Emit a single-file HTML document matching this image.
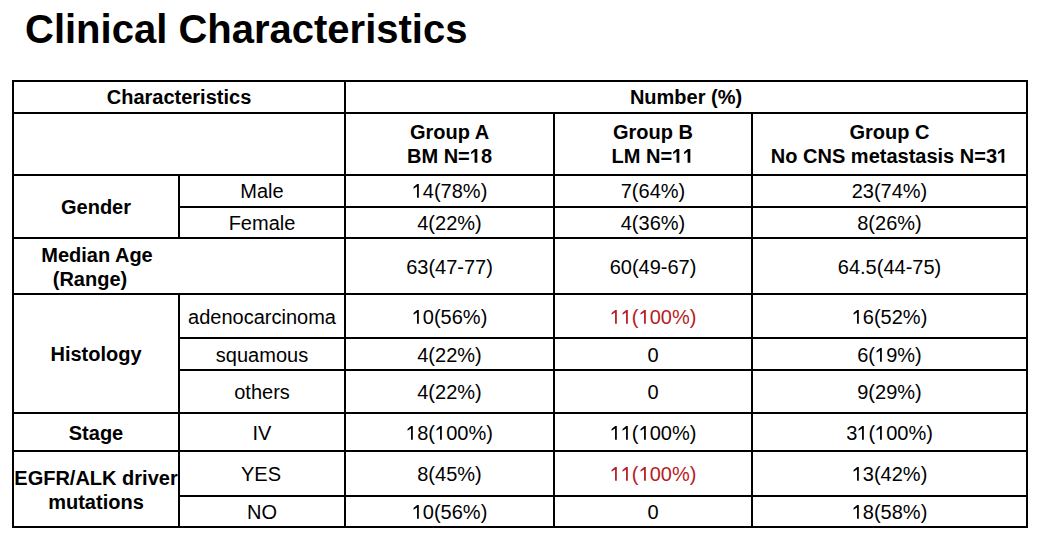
<!DOCTYPE html>
<html><head><meta charset="utf-8"><style>
html,body{margin:0;padding:0;background:#fff;}
body{width:1037px;height:534px;position:relative;overflow:hidden;font-family:"Liberation Sans",sans-serif;color:#000;}
.t{position:absolute;left:25px;top:6px;font-size:40px;font-weight:bold;line-height:46px;white-space:nowrap;}
.l{position:absolute;background:#000;}
.c{position:absolute;display:flex;align-items:center;justify-content:center;text-align:center;font-size:20px;line-height:24px;white-space:nowrap;}
.b{font-weight:bold;}
.r{color:#b81c24;}
svg.o{width:11.123px;height:13.76px;fill:currentColor;vertical-align:baseline;}
</style></head><body>
<div class="t">Clinical Characteristics</div>
<div class="l" style="left:12px;top:80px;width:1016px;height:2px"></div>
<div class="l" style="left:12px;top:112px;width:1016px;height:2px"></div>
<div class="l" style="left:12px;top:174px;width:1016px;height:2px"></div>
<div class="l" style="left:12px;top:237px;width:1016px;height:2px"></div>
<div class="l" style="left:12px;top:293px;width:1016px;height:2px"></div>
<div class="l" style="left:12px;top:412px;width:1016px;height:2px"></div>
<div class="l" style="left:12px;top:450px;width:1016px;height:2px"></div>
<div class="l" style="left:12px;top:526px;width:1016px;height:2px"></div>
<div class="l" style="left:178px;top:206px;width:850px;height:2px"></div>
<div class="l" style="left:178px;top:337px;width:850px;height:2px"></div>
<div class="l" style="left:178px;top:369px;width:850px;height:2px"></div>
<div class="l" style="left:178px;top:495px;width:850px;height:2px"></div>
<div class="l" style="left:12px;top:80px;width:2px;height:448px"></div>
<div class="l" style="left:344px;top:80px;width:2px;height:448px"></div>
<div class="l" style="left:553px;top:112px;width:2px;height:416px"></div>
<div class="l" style="left:751px;top:112px;width:2px;height:416px"></div>
<div class="l" style="left:1026px;top:80px;width:2px;height:448px"></div>
<div class="l" style="left:178px;top:174px;width:2px;height:64px"></div>
<div class="l" style="left:178px;top:293px;width:2px;height:235px"></div>
<div class="c b" style="left:14px;top:82px;width:330px;height:30px"><div>Characteristics</div></div>
<div class="c b" style="left:346px;top:82px;width:680px;height:30px"><div>Number (%)</div></div>
<div class="c b" style="left:346px;top:114px;width:207px;height:60px"><div>Group A<br>BM N=<svg class="o" viewBox="0 0 1139 1409"><path d="M470 1409L470 290L115 540L115 320L490 0L751 0L751 1409Z"/></svg>8</div></div>
<div class="c b" style="left:555px;top:114px;width:196px;height:60px"><div>Group B<br>LM N=<svg class="o" viewBox="0 0 1139 1409"><path d="M470 1409L470 290L115 540L115 320L490 0L751 0L751 1409Z"/></svg><svg class="o" viewBox="0 0 1139 1409"><path d="M470 1409L470 290L115 540L115 320L490 0L751 0L751 1409Z"/></svg></div></div>
<div class="c b" style="left:753px;top:114px;width:273px;height:60px"><div>Group C<br>No CNS metastasis N=3<svg class="o" viewBox="0 0 1139 1409"><path d="M470 1409L470 290L115 540L115 320L490 0L751 0L751 1409Z"/></svg></div></div>
<div class="c b" style="left:14px;top:176px;width:164px;height:62px"><div>Gender</div></div>
<div class="c " style="left:180px;top:176px;width:164px;height:30px"><div>Male</div></div>
<div class="c " style="left:180px;top:208px;width:164px;height:30px"><div>Female</div></div>
<div class="c " style="left:346px;top:176px;width:207px;height:30px"><div><svg class="o" viewBox="0 0 1139 1409"><path d="M518 1409L518 250L160 480L160 300L533 0L699 0L699 1409Z"/></svg>4(78%)</div></div>
<div class="c " style="left:555px;top:176px;width:196px;height:30px"><div>7(64%)</div></div>
<div class="c " style="left:753px;top:176px;width:273px;height:30px"><div>23(74%)</div></div>
<div class="c " style="left:346px;top:208px;width:207px;height:30px"><div>4(22%)</div></div>
<div class="c " style="left:555px;top:208px;width:196px;height:30px"><div>4(36%)</div></div>
<div class="c " style="left:753px;top:208px;width:273px;height:30px"><div>8(26%)</div></div>
<div class="c " style="left:346px;top:240px;width:207px;height:54px"><div>63(47-77)</div></div>
<div class="c " style="left:555px;top:240px;width:196px;height:54px"><div>60(49-67)</div></div>
<div class="c " style="left:753px;top:240px;width:273px;height:54px"><div>64.5(44-75)</div></div>
<div class="c " style="left:346px;top:296px;width:207px;height:42px"><div><svg class="o" viewBox="0 0 1139 1409"><path d="M518 1409L518 250L160 480L160 300L533 0L699 0L699 1409Z"/></svg>0(56%)</div></div>
<div class="c " style="left:555px;top:296px;width:196px;height:42px"><div><span class="r"><svg class="o" viewBox="0 0 1139 1409"><path d="M518 1409L518 250L160 480L160 300L533 0L699 0L699 1409Z"/></svg><svg class="o" viewBox="0 0 1139 1409"><path d="M518 1409L518 250L160 480L160 300L533 0L699 0L699 1409Z"/></svg>(<svg class="o" viewBox="0 0 1139 1409"><path d="M518 1409L518 250L160 480L160 300L533 0L699 0L699 1409Z"/></svg>00%)</span></div></div>
<div class="c " style="left:753px;top:296px;width:273px;height:42px"><div><svg class="o" viewBox="0 0 1139 1409"><path d="M518 1409L518 250L160 480L160 300L533 0L699 0L699 1409Z"/></svg>6(52%)</div></div>
<div class="c " style="left:346px;top:340px;width:207px;height:29px"><div>4(22%)</div></div>
<div class="c " style="left:555px;top:340px;width:196px;height:29px"><div>0</div></div>
<div class="c " style="left:753px;top:340px;width:273px;height:29px"><div>6(<svg class="o" viewBox="0 0 1139 1409"><path d="M518 1409L518 250L160 480L160 300L533 0L699 0L699 1409Z"/></svg>9%)</div></div>
<div class="c " style="left:346px;top:371px;width:207px;height:41px"><div>4(22%)</div></div>
<div class="c " style="left:555px;top:371px;width:196px;height:41px"><div>0</div></div>
<div class="c " style="left:753px;top:371px;width:273px;height:41px"><div>9(29%)</div></div>
<div class="c " style="left:346px;top:414px;width:207px;height:37px"><div><svg class="o" viewBox="0 0 1139 1409"><path d="M518 1409L518 250L160 480L160 300L533 0L699 0L699 1409Z"/></svg>8(<svg class="o" viewBox="0 0 1139 1409"><path d="M518 1409L518 250L160 480L160 300L533 0L699 0L699 1409Z"/></svg>00%)</div></div>
<div class="c " style="left:555px;top:414px;width:196px;height:37px"><div><svg class="o" viewBox="0 0 1139 1409"><path d="M518 1409L518 250L160 480L160 300L533 0L699 0L699 1409Z"/></svg><svg class="o" viewBox="0 0 1139 1409"><path d="M518 1409L518 250L160 480L160 300L533 0L699 0L699 1409Z"/></svg>(<svg class="o" viewBox="0 0 1139 1409"><path d="M518 1409L518 250L160 480L160 300L533 0L699 0L699 1409Z"/></svg>00%)</div></div>
<div class="c " style="left:753px;top:414px;width:273px;height:37px"><div>3<svg class="o" viewBox="0 0 1139 1409"><path d="M518 1409L518 250L160 480L160 300L533 0L699 0L699 1409Z"/></svg>(<svg class="o" viewBox="0 0 1139 1409"><path d="M518 1409L518 250L160 480L160 300L533 0L699 0L699 1409Z"/></svg>00%)</div></div>
<div class="c " style="left:346px;top:453px;width:207px;height:42px"><div>8(45%)</div></div>
<div class="c " style="left:555px;top:453px;width:196px;height:42px"><div><span class="r"><svg class="o" viewBox="0 0 1139 1409"><path d="M518 1409L518 250L160 480L160 300L533 0L699 0L699 1409Z"/></svg><svg class="o" viewBox="0 0 1139 1409"><path d="M518 1409L518 250L160 480L160 300L533 0L699 0L699 1409Z"/></svg>(<svg class="o" viewBox="0 0 1139 1409"><path d="M518 1409L518 250L160 480L160 300L533 0L699 0L699 1409Z"/></svg>00%)</span></div></div>
<div class="c " style="left:753px;top:453px;width:273px;height:42px"><div><svg class="o" viewBox="0 0 1139 1409"><path d="M518 1409L518 250L160 480L160 300L533 0L699 0L699 1409Z"/></svg>3(42%)</div></div>
<div class="c " style="left:346px;top:497px;width:207px;height:30px"><div><svg class="o" viewBox="0 0 1139 1409"><path d="M518 1409L518 250L160 480L160 300L533 0L699 0L699 1409Z"/></svg>0(56%)</div></div>
<div class="c " style="left:555px;top:497px;width:196px;height:30px"><div>0</div></div>
<div class="c " style="left:753px;top:497px;width:273px;height:30px"><div><svg class="o" viewBox="0 0 1139 1409"><path d="M518 1409L518 250L160 480L160 300L533 0L699 0L699 1409Z"/></svg>8(58%)</div></div>
<div class="c b" style="left:14px;top:240px;width:164px;height:54px"><div><span style="position:relative;left:1px">Median Age</span><br><span style="position:relative;left:-6px;top:0px">(Range)</span></div></div>
<div class="c b" style="left:14px;top:296px;width:164px;height:116px"><div>Histology</div></div>
<div class="c " style="left:180px;top:296px;width:164px;height:42px"><div>adenocarcinoma</div></div>
<div class="c " style="left:180px;top:340px;width:164px;height:29px"><div>squamous</div></div>
<div class="c " style="left:180px;top:371px;width:164px;height:41px"><div>others</div></div>
<div class="c b" style="left:14px;top:414px;width:164px;height:37px"><div>Stage</div></div>
<div class="c " style="left:180px;top:414px;width:164px;height:37px"><div>IV</div></div>
<div class="c b" style="left:14px;top:453px;width:164px;height:74px"><div>EGFR/ALK driver<br>mutations</div></div>
<div class="c " style="left:180px;top:453px;width:164px;height:42px"><div><span style="position:relative;left:-1px">YES</span></div></div>
<div class="c " style="left:180px;top:497px;width:164px;height:30px"><div>NO</div></div>
</body></html>
